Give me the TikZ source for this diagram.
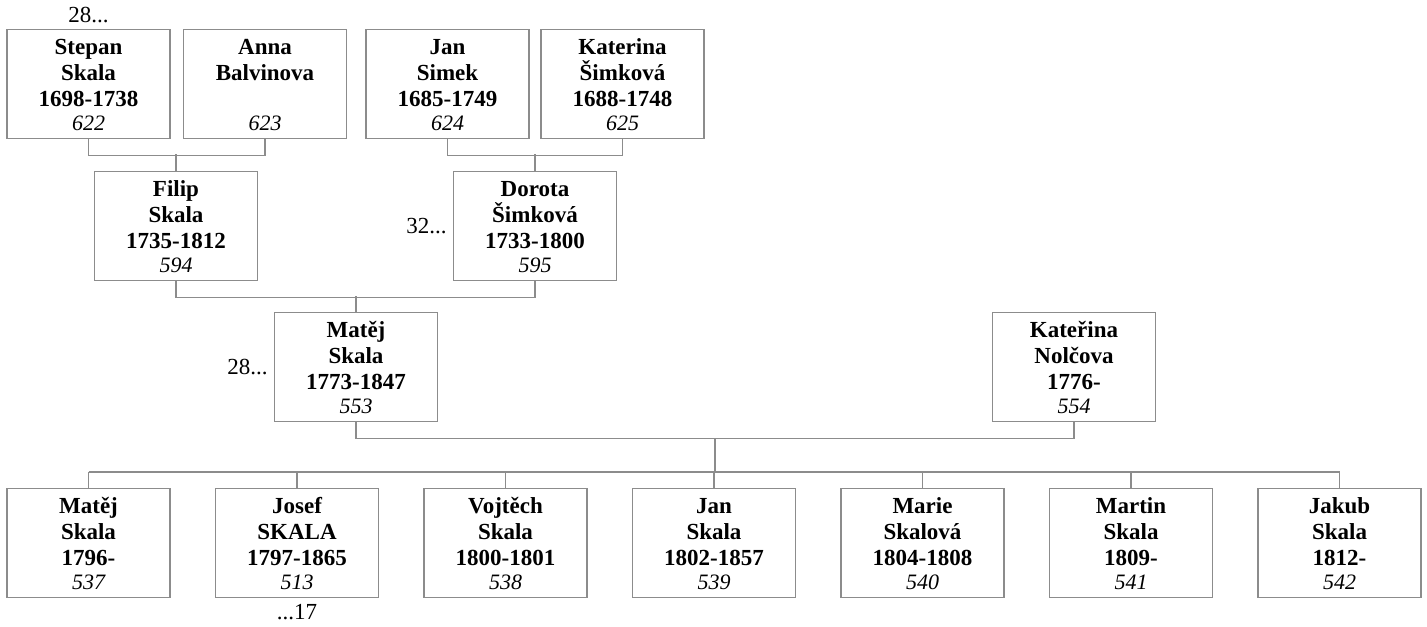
\documentclass[tikz,border=0pt]{standalone}
\usepackage{fontspec}
\setmainfont{Liberation Serif}
\usetikzlibrary{positioning,calc}
\tikzset{
  treepicture/.style={x=0.5pt, y=-0.5pt, node distance=22.15pt},
  personbox/.style={draw=gray!90, line width=0.6pt, anchor=north, inner sep=0pt, text width=81.5pt, minimum height=54.5pt, align=center, font=\fontsize{11.5}{13}\selectfont\bfseries},
  moremark/.style={inner sep=0pt, font=\fontsize{11.5}{13}\selectfont},
  familyline/.style={draw=gray!90, line width=0.6pt}
}
\newcommand{\personinfo}[4]{\rule{0pt}{12.5pt}#1\\#2\\\mbox{}#3\\[-1pt]{\mdseries\itshape\fontsize{11}{12}\selectfont #4}\rule[-4pt]{0pt}{4pt}}

\begin{document}
\begin{tikzpicture}[treepicture]
\useasboundingbox (0,0) rectangle (1427,626);
% grandparents
\node[personbox] (stepan) at (88.5,29) {\personinfo{Stepan}{Skala}{1698-1738}{622}};
\node[personbox] (anna) at (265,29) {\personinfo{Anna}{Balvinova}{}{623}};
\node[personbox] (jan) at (447.5,29) {\personinfo{Jan}{Simek}{1685-1749}{624}};
\node[personbox] (katerina) at (622.5,29) {\personinfo{Katerina}{Šimková}{1688-1748}{625}};
% parents
\node[personbox] (filip) at (176,171) {\personinfo{Filip}{Skala}{1735-1812}{594}};
\node[personbox] (dorota) at (535,171) {\personinfo{Dorota}{Šimková}{1733-1800}{595}};
% couple
\node[personbox] (matej) at (356,312) {\personinfo{Matěj}{Skala}{1773-1847}{553}};
\node[personbox] (nolcova) at (1074,312) {\personinfo{Kateřina}{Nolčova}{1776-}{554}};
% children
\node[personbox] (kid1) at (88.5,488) {\personinfo{Matěj}{Skala}{1796-}{537}};
\node[personbox, right=of kid1] (kid2) {\personinfo{Josef}{SKALA}{1797-1865}{513}};
\node[personbox, right=of kid2] (kid3) {\personinfo{Vojtěch}{Skala}{1800-1801}{538}};
\node[personbox, right=of kid3] (kid4) {\personinfo{Jan}{Skala}{1802-1857}{539}};
\node[personbox, right=of kid4] (kid5) {\personinfo{Marie}{Skalová}{1804-1808}{540}};
\node[personbox, right=of kid5] (kid6) {\personinfo{Martin}{Skala}{1809-}{541}};
\node[personbox, right=of kid6] (kid7) {\personinfo{Jakub}{Skala}{1812-}{542}};
% more generations
\node[moremark, above=3pt of stepan] (stepanmore) {28...};
\node[moremark, left=3pt of dorota] (dorotamore) {32...};
\node[moremark, left=3pt of matej] (matejmore) {28...};
\node[moremark, below=3pt of kid2] (josefmore) {...17};
% lines
\draw[familyline] (stepan.south) -- ++(0,-8pt) -| (anna.south);
\draw[familyline] (filip.north) -- ++(0,8.5pt);
\draw[familyline] (jan.south) -- ++(0,-8pt) -| (katerina.south);
\draw[familyline] (dorota.north) -- ++(0,8.5pt);
\draw[familyline] (filip.south) -- ++(0,-8pt) -| (dorota.south);
\draw[familyline] (matej.north) -- ++(0,8pt);
\draw[familyline] (matej.south) -- ++(0,-8pt) -| (nolcova.south);
\coordinate (fam) at ($(matej.south)!0.5!(nolcova.south)+(0,-8pt)$);
\coordinate (kidbar) at ([yshift=8pt]kid1.north);
\draw[familyline] (fam) -- (fam |- kidbar);
\draw[familyline] (kidbar) -- ([yshift=8pt]kid7.north);
\foreach \k in {kid1,kid2,kid3,kid4,kid5,kid6,kid7}
  \draw[familyline] (\k.north) -- ++(0,8pt);
\end{tikzpicture}
\end{document}
